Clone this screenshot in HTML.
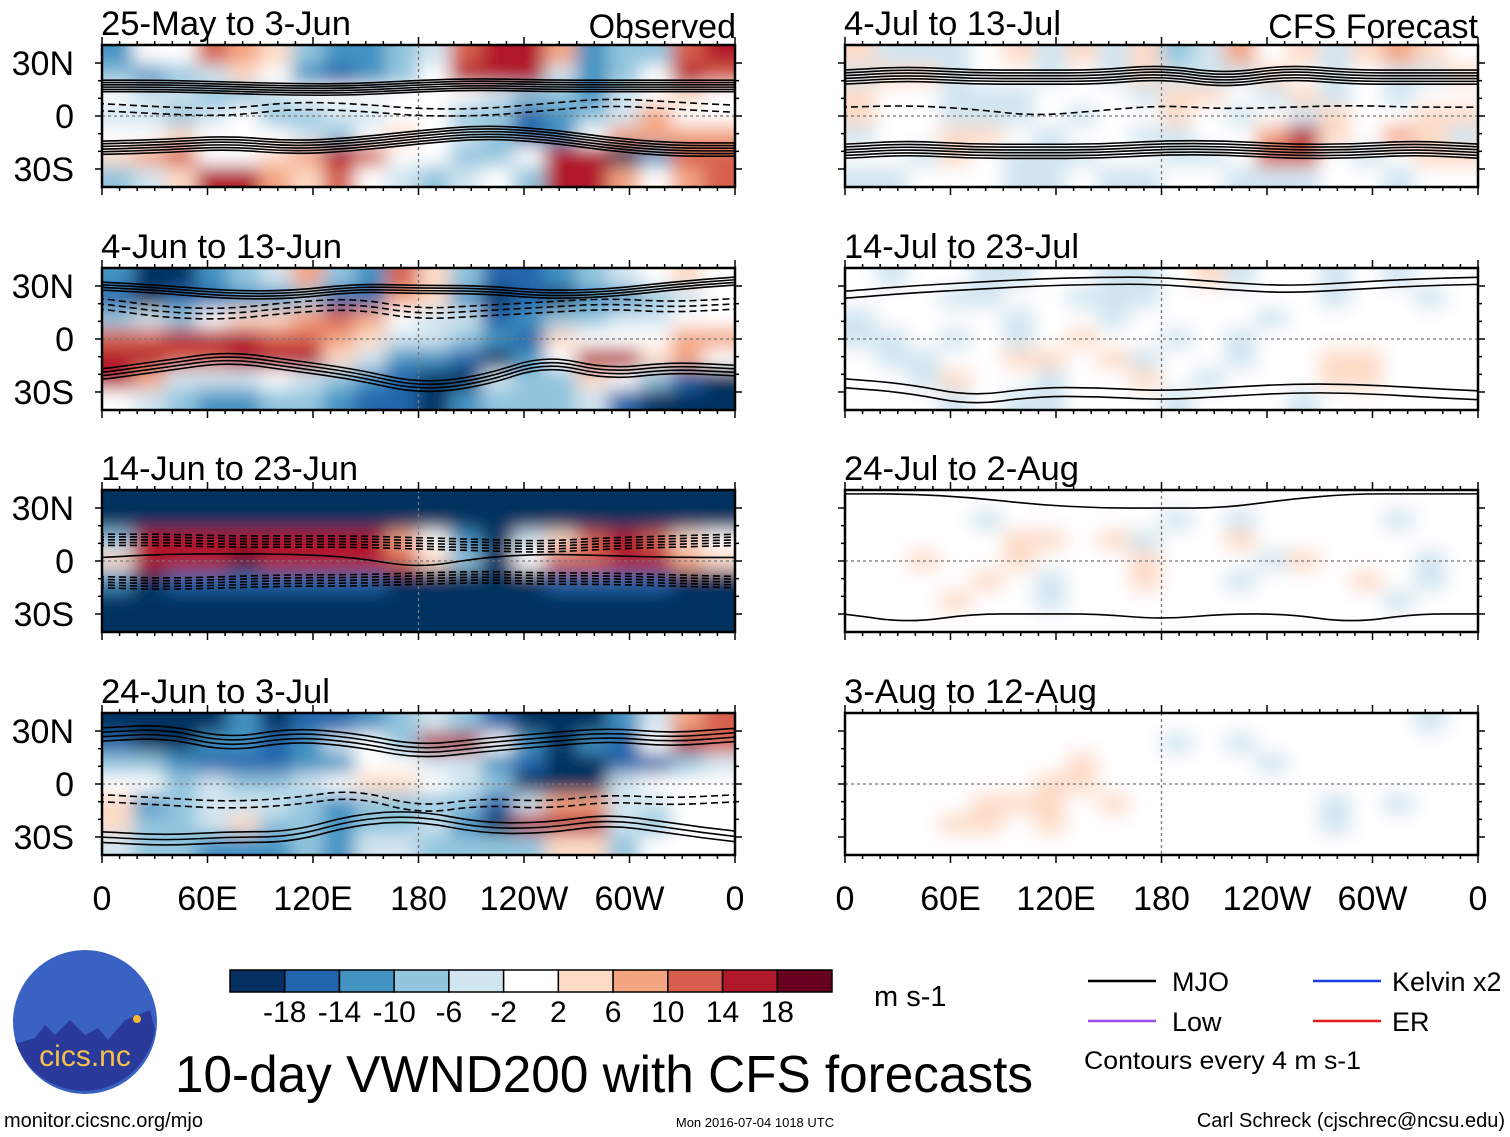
<!DOCTYPE html>
<html><head><meta charset="utf-8"><style>
html,body{margin:0;padding:0;background:#fff;}
svg{display:block;font-family:"Liberation Sans",sans-serif;}
</style></head><body>
<svg id="fig" width="1510" height="1137" viewBox="0 0 1510 1137" xmlns="http://www.w3.org/2000/svg">
<defs>
<filter id="blur" x="-5%" y="-15%" width="110%" height="130%"><feGaussianBlur stdDeviation="9"/></filter>
</defs>
<g id="panels"></g>
<g id="bottom"></g>
</svg>
<script>
const NS="http://www.w3.org/2000/svg";
const svg=document.getElementById('fig');
const colors=["#053061","#2166ac","#4393c3","#92c5de","#d1e5f0","#ffffff","#fddbc7","#f4a582","#d6604d","#b2182b","#67001f"];
const cbLabels=["-18","-14","-10","-6","-2","2","6","10","14","18"];
const lonTicks=["0","60E","120E","180","120W","60W","0"];
const latTicks=["30N","0","30S"];
const latVals=[30,0,-30];
const titles=["25-May to 3-Jun","4-Jun to 13-Jun","14-Jun to 23-Jun","24-Jun to 3-Jul","4-Jul to 13-Jul","14-Jul to 23-Jul","24-Jul to 2-Aug","3-Aug to 12-Aug"];
const titleW=[250,241,257,229,217,235,235,253];
const gridP1=["25587632234899723389","32346521235999423598","54433455555543324565","44345334455331234755","55655543565431257777","67855679855335990288","34699768543453997578"];
const gridP2=["20023473286311234565","10112231176201022345","34356678754412334455","88999887644321655577","99889996422102599675","97444543210043365310","54322332110233341000"];
const gridP3=["00000000000000000000","00000000000000000000","39999999975204689865","6999A999986305889976","20111111100000111100","00000000000000000000","00000000000000000000"];
const gridP4=["00002011234310002478","10022124539952021598","33211122554421001134","55343345665430004555","62344432333314774455","63346332334209994355","43322232443333663555"];
const gridR1=["64445646463475646765","46645545464446545446","65544455546654645455","65544454556545465566","45566545544557965764","55465444554458854566","44555445445544455455"];
const gridR2=["54554455445645545455","55544554445555545545","45555455455554555555","44545456554545555555","54455665645545566555","55465545565455566555","55545445554555455555"];
const gridR3=["55555555555555555555","55554555554545555455","55555665645565555555","55655655565554655545","55556545565545556545","55565545555555555455","55555555555555555555"];
const gridR4=["55555555555555555545","55555555554545555555","55555556555554555555","55555566555555555555","55556665655555545455","55566565555555545555","55555555555555555555"];
const grids=[gridP1,gridP2,gridP3,gridP4,gridR1,gridR2,gridR3,gridR4];
const bundlesP1=[[[17,17,16,15,15,17,18,17,17,17,17],6,1.3,0],[[5,3,2,6,5,2,2,5,8,6,4],2,4,1],[[-18,-17,-15,-18,-16,-12,-9,-11,-16,-19,-19],6,1.5,0]];
const bundlesP2=[[[30,28,25,25,29,28,28,25,26,30,33],4,1.5,0],[[20,15,14,18,20,14,16,18,20,18,20],3,3,1],[[-20,-15,-10,-15,-20,-28,-24,-12,-20,-16,-18],4,2,0]];
const bundlesP3=[[[12,12,11,11,11,10,9,8,10,11,12],5,1.6,1],[[-12,-13,-12,-11,-11,-10,-9,-10,-10,-11,-12],5,1.6,1],[[2,4,4,4,2,-4,2,4,3,2,2],1,0,0]];
const bundlesP4=[[[28,30,22,28,25,18,22,25,28,25,28],4,2.5,0],[[-30,-32,-30,-30,-20,-18,-25,-25,-20,-25,-30],3,3,0],[[-8,-10,-12,-10,-5,-15,-10,-12,-8,-10,-8],2,4,1]];
const bundlesR1=[[[22,24,22,22,22,25,20,25,22,22,22],6,1.6,0],[[-20,-18,-20,-20,-20,-18,-18,-20,-20,-18,-20],6,1.6,0],[[5,6,4,0,3,6,4,5,6,5,5],1,0,1]];
const bundlesR2=[[[25,28,30,32,33,33,30,28,30,32,33],2,4,0],[[-25,-28,-35,-30,-30,-32,-30,-28,-28,-30,-32],2,5,0]];
const bundlesR3=[[[38,38,36,32,30,30,30,35,38,38,38],1,0,0],[[-30,-35,-30,-30,-30,-33,-30,-30,-35,-30,-30],1,0,0]];
const bundlesR4=[];
const bundles=[bundlesP1,bundlesP2,bundlesP3,bundlesP4,bundlesR1,bundlesR2,bundlesR3,bundlesR4];

function el(tag,attrs,parent){const e=document.createElementNS(NS,tag);for(const k in attrs)e.setAttribute(k,attrs[k]);(parent||svg).appendChild(e);return e;}
const W=633,H=142,LAT=40.2;
const colX=[102,845],rowY=[45,268,490,713];
const pg=document.getElementById('panels');
for(let p=0;p<8;p++){
  const x0=colX[p<4?0:1],y0=rowY[p%4];
  const xs=lon=>x0+lon/360*W, ys=lat=>y0+H/2-lat/LAT*H/2;
  const g=el('g',{},pg);
  
  
  const cp=el('clipPath',{id:'cp'+p},g);
  el('rect',{x:x0,y:y0,width:W,height:H},cp);
  const inner=el('g',{'clip-path':'url(#cp'+p+')'},g);
  const hm=el('g',{filter:'url(#blur)'},inner);
  const grid=grids[p],nr=grid.length,nc=grid[0].length,cw=W/nc,ch=H/nr;
  for(let r=-2;r<=nr+1;r++)for(let c=-2;c<=nc+1;c++){
    const rr=Math.min(nr-1,Math.max(0,r)),cc=Math.min(nc-1,Math.max(0,c));
    const v=parseInt(grid[rr][cc],16);
    const cell=el('rect',{x:x0+c*cw-0.5,y:y0+r*ch-0.5,width:cw+1,height:ch+1,fill:colors[v]},hm);
    
    
  }
  el('line',{x1:x0,x2:x0+W,y1:ys(0),y2:ys(0),stroke:'#777','stroke-width':1.3,'stroke-dasharray':'3,3'},inner);
  el('line',{x1:xs(180),x2:xs(180),y1:y0,y2:y0+H,stroke:'#777','stroke-width':1.3,'stroke-dasharray':'3,3'},inner);
  for(const b of bundles[p]){
    const [lats,n,sp,dash]=b;
    for(let k=0;k<n;k++){
      const off=(k-(n-1)/2)*sp;
      const pts=lats.map((la,i)=>[xs(i*36),ys(la+off)]);
      let d='M'+(pts[0][0]-5)+','+pts[0][1];
      for(let i=0;i<pts.length-1;i++){const mx=(pts[i][0]+pts[i+1][0])/2,my=(pts[i][1]+pts[i+1][1])/2;d+=' Q'+pts[i][0]+','+pts[i][1]+' '+mx+','+my;}
      d+=' L'+(pts[pts.length-1][0]+5)+','+pts[pts.length-1][1];
      const pa=el('path',{d:d,fill:'none',stroke:'#000','stroke-width':1.6,'stroke-dasharray':dash?'7,4':'none'},inner);
      
      
    }
  }
  const fr=el('rect',{x:x0,y:y0,width:W,height:H,fill:'none',stroke:'#000','stroke-width':2.5},g);
  
  
  for(let lon=0;lon<=360;lon+=10){const mj=lon%60==0,L=mj?8:4;
    el('line',{x1:xs(lon),x2:xs(lon),y1:y0-L,y2:y0,stroke:'#000','stroke-width':1.5},g);
    el('line',{x1:xs(lon),x2:xs(lon),y1:y0+H,y2:y0+H+L,stroke:'#000','stroke-width':1.5},g);}
  for(let lat=-30;lat<=30;lat+=10){const L=lat%30==0?7:4;
    el('line',{x1:x0-L,x2:x0,y1:ys(lat),y2:ys(lat),stroke:'#000','stroke-width':1.5},g);
    el('line',{x1:x0+W,x2:x0+W+L,y1:ys(lat),y2:ys(lat),stroke:'#000','stroke-width':1.5},g);}
  const t=el('text',{x:x0-1,y:y0-10,'font-size':34,textLength:titleW[p],lengthAdjust:'spacingAndGlyphs'},g);t.textContent=titles[p];
  
  
  if(p<4){latTicks.forEach((s,i)=>{const tt=el('text',{x:74,y:ys(latVals[i])+12,'font-size':34,'text-anchor':'end'},g);tt.textContent=s;
    
    });}
  if(p%4==3){lonTicks.forEach((s,i)=>{const tt=el('text',{x:xs(i*60),y:910,'font-size':34,'text-anchor':'middle'},g);tt.textContent=s;
    
    });}
}
const ob=el('text',{x:736,y:38,'font-size':34,'text-anchor':'end'});ob.textContent='Observed';


const cf=el('text',{x:1478,y:38,'font-size':34,'text-anchor':'end'});cf.textContent='CFS Forecast';


const bw=602/11;
const cbg=el('g',{});


colors.forEach((c,i)=>{el('rect',{x:230+i*bw,y:970,width:bw,height:22,fill:c,stroke:'#000','stroke-width':1.5},cbg);});
cbLabels.forEach((s,i)=>{const t=el('text',{x:230+(i+1)*bw,y:1022,'font-size':30,'text-anchor':'middle'},cbg);t.textContent=s;});
const un=el('text',{x:874,y:1006,'font-size':29});un.textContent='m s-1';


const lg=el('g',{});


[[1088,981,'#000','MJO',1172],[1313,981,'#1a3ee6','Kelvin x2',1392],[1088,1021,'#9a4ee6','Low',1172],[1313,1021,'#e61a1a','ER',1392]].forEach(a=>{
  el('line',{x1:a[0],x2:a[0]+68,y1:a[1],y2:a[1],stroke:a[2],'stroke-width':2.5},lg);
  const t=el('text',{x:a[4],y:a[1]+10,'font-size':27},lg);t.textContent=a[3];});
const ce=el('text',{x:1084,y:1069,'font-size':25,textLength:277,lengthAdjust:'spacingAndGlyphs'},lg);ce.textContent='Contours every 4 m s-1';
const ti=el('text',{x:175,y:1092,'font-size':52,textLength:858,lengthAdjust:'spacingAndGlyphs'});ti.textContent='10-day VWND200 with CFS forecasts';


const f1=el('text',{x:4,y:1127,'font-size':20});f1.textContent='monitor.cicsnc.org/mjo';


const f2=el('text',{x:755,y:1127,'font-size':13,'text-anchor':'middle'});f2.textContent='Mon 2016-07-04 1018 UTC';


const f3=el('text',{x:1505,y:1127,'font-size':20,'text-anchor':'end'});f3.textContent='Carl Schreck (cjschrec@ncsu.edu)';


const lo=el('g',{});


el('circle',{cx:85,cy:1022,r:72,fill:'#3a62c2'},lo);
el('path',{d:'M18,1043 L35,1038 L45,1025 L55,1035 L70,1020 L85,1035 L98,1028 L108,1040 L125,1020 L150,1010 L155,1030 A72,72 0 0 1 15,1040 Z',fill:'#2a3a9a'},lo);
el('circle',{cx:137,cy:1019,r:4,fill:'#f7b733'},lo);
const lt=el('text',{x:85,y:1066,'font-size':30,'text-anchor':'middle',fill:'#f7c04a'},lo);lt.textContent='cics.nc';
</script>
</body></html>
